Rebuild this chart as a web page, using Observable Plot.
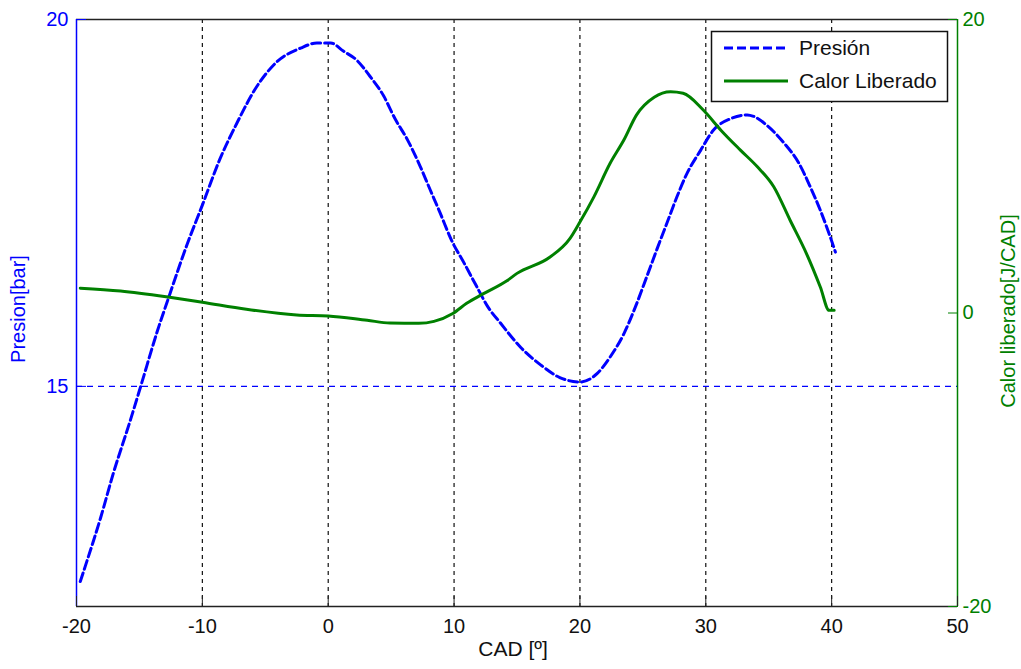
<!DOCTYPE html>
<html><head><meta charset="utf-8">
<script src="https://cdn.jsdelivr.net/npm/d3@7"></script>
<script src="https://cdn.jsdelivr.net/npm/@observablehq/plot@0.6"></script>
<style>
body{margin:0;background:#fff;}
#chart{position:relative;width:1021px;height:669px;}
</style>
</head><body><div id="chart"></div>
<script>
// Pressure [bar] vs CAD
const cadPresion = [-19.7,-19.3,-18.1,-17.1,-15.7,-14.9,-13.6,-12.6,-11.2,-10.0,-8.6,-7.25,-5.7,-4.1,-2.2,-0.9,0.2,1.2,2.3,3.3,4.4,5.3,6.3,7.2,8.1,8.9,9.8,10.8,11.8,12.7,13.7,15.3,16.9,18.4,20.0,21.4,22.4,23.5,24.4,25.3,26.1,26.9,27.7,28.5,29.6,30.6,32.0,33.3,33.8,34.9,36.2,37.4,38.3,39.1,39.8,40.3];
const presion = [12.34,12.55,13.2,13.8,14.55,15.0,15.74,16.25,16.94,17.47,18.1,18.59,19.08,19.42,19.61,19.68,19.68,19.57,19.44,19.23,18.96,18.65,18.36,18.04,17.68,17.36,16.99,16.68,16.36,16.08,15.86,15.53,15.29,15.12,15.06,15.18,15.4,15.72,16.08,16.49,16.86,17.22,17.58,17.9,18.22,18.49,18.65,18.7,18.68,18.55,18.32,18.04,17.72,17.4,17.08,16.83];
// Heat release [J/CAD] vs CAD
const cadCalor = [-19.7,-16.5,-12.6,-10.0,-6.5,-2.5,0,3.1,4.9,7.2,8.4,9.9,11.0,12.3,14.2,15.0,17.6,19.2,20.0,21.1,22.4,23.5,24.5,25.9,27.2,28.2,29.8,31.2,32.75,34.1,35.4,36.7,38.0,39.1,39.8,40.2];
const calor = [1.69,1.5,1.07,0.73,0.25,-0.13,-0.2,-0.5,-0.68,-0.7,-0.57,-0.03,0.66,1.3,2.2,2.7,3.8,5.07,6.2,7.9,10.2,11.8,13.5,14.7,15.07,14.97,13.83,12.46,11.1,9.96,8.6,6.32,4.05,1.77,0.18,0.18];

const xTicks = [-20,-10,0,10,20,30,40,50];
const xGrid = [-10,0,10,20,30,40];
const presionTicks = [15,20];
const presionGrid = [15];
const calorTicks = [-20,0,20];
const xDomain = [-20,50];
const presionDomain = [12,20];
const calorDomain = [-20,20];
const legendLabels = ["Presión","Calor Liberado"];
const xLabel = "CAD [º]";
const yLeftLabel = "Presion[bar]";
const yRightLabel = "Calor liberado[J/CAD]";

const BLUE = "#0000ff", GREEN = "#008000";
const toLeft = q => presionDomain[0] + (q - calorDomain[0]) * (presionDomain[1]-presionDomain[0]) / (calorDomain[1]-calorDomain[0]);
const fromLeft = p => String(Math.round(calorDomain[0] + (p - presionDomain[0]) * (calorDomain[1]-calorDomain[0]) / (presionDomain[1]-presionDomain[0])));

const presionData = cadPresion.map((x,i)=>({x, p: presion[i]}));
const calorData = cadCalor.map((x,i)=>({x, q: calor[i]}));

const FS = 20;
const FONT = "'Liberation Sans', Arial, sans-serif";
const plot = Plot.plot({
  width: 1021, height: 669,
  marginLeft: 76, marginRight: 64, marginTop: 19, marginBottom: 63,
  style: {fontFamily: FONT, background: "white"},
  x: {domain: xDomain},
  y: {domain: presionDomain},
  marks: [
    Plot.ruleX(xGrid, {stroke: "#111", strokeDasharray: "4,4", strokeWidth: 1.2}),
    Plot.ruleY(presionGrid, {stroke: BLUE, strokeDasharray: "6,5", strokeWidth: 1.4}),
    Plot.line(presionData, {x: "x", y: "p", stroke: BLUE, strokeWidth: 3, strokeDasharray: "9,4", curve: "monotone-x"}),
    Plot.line(calorData, {x: "x", y: d => toLeft(d.q), stroke: GREEN, strokeWidth: 3, curve: "monotone-x"}),
    // box
    Plot.ruleY([presionDomain[1]], {stroke: "#222", strokeWidth: 1.5}),
    Plot.ruleY([presionDomain[0]], {stroke: "#222", strokeWidth: 1.5}),
    Plot.ruleX([xDomain[0]], {stroke: BLUE, strokeWidth: 1.5}),
    Plot.ruleX([xDomain[1]], {stroke: GREEN, strokeWidth: 1.5}),
    // inward ticks
    Plot.axisX(xTicks, {anchor: "bottom", tickSize: 10, dy: -10, tickFormat: () => "", label: null, stroke: "#222"}),
    Plot.axisY(presionTicks, {anchor: "left", tickSize: 10, dx: 10, tickFormat: () => "", label: null, stroke: BLUE}),
    Plot.axisY(calorTicks.map(toLeft), {anchor: "right", tickSize: 10, dx: -10, tickFormat: () => "", label: null, stroke: GREEN}),
    // tick labels
    Plot.axisX(xTicks, {anchor: "bottom", tickSize: 0, tickPadding: 12, fontSize: FS, label: null, fill: "#111", tickFormat: d => String(d)}),
    Plot.axisY(presionTicks, {anchor: "left", tickSize: 0, tickPadding: 8, fontSize: FS, label: null, fill: BLUE, tickFormat: d => String(d)}),
    Plot.axisY(calorTicks.map(toLeft), {anchor: "right", tickSize: 0, tickPadding: 5, fontSize: FS, label: null, fill: GREEN, tickFormat: fromLeft}),
    // axis titles
    Plot.text([xLabel], {text: d => d, frameAnchor: "bottom", textAnchor: "middle", dy: 49, dx: -4, fontSize: 21, fill: "#111"}),
    Plot.text([yLeftLabel], {text: d => d, frameAnchor: "left", textAnchor: "middle", dx: -58, dy: -4, rotate: -90, fontSize: FS, fill: BLUE}),
    Plot.text([yRightLabel], {text: d => d, frameAnchor: "right", textAnchor: "middle", dx: 51, dy: -2, rotate: -90, fontSize: FS, fill: GREEN})
  ]
});
document.getElementById("chart").appendChild(plot);

// Legend
const svg = d3.select(plot);
const lg = svg.append("g").attr("font-family", FONT).attr("font-size", 21).attr("text-anchor", "start");
lg.append("rect").attr("x", 711.5).attr("y", 31.5).attr("width", 236).attr("height", 70)
  .attr("fill", "white").attr("stroke", "#111").attr("stroke-width", 1.5);
const legendStyles = [{stroke: BLUE, dash: "9,4"}, {stroke: GREEN, dash: null}];
legendLabels.forEach((lab, i) => {
  const y = 48 + i * 33;
  lg.append("line").attr("x1", 724).attr("x2", 788).attr("y1", y).attr("y2", y)
    .attr("stroke", legendStyles[i].stroke).attr("stroke-width", 3)
    .attr("stroke-dasharray", legendStyles[i].dash);
  lg.append("text").attr("x", 799).attr("y", y).attr("dy", "0.35em")
    .attr("text-anchor", "start").attr("fill", "#111").text(lab);
});
</script>
</body></html>
